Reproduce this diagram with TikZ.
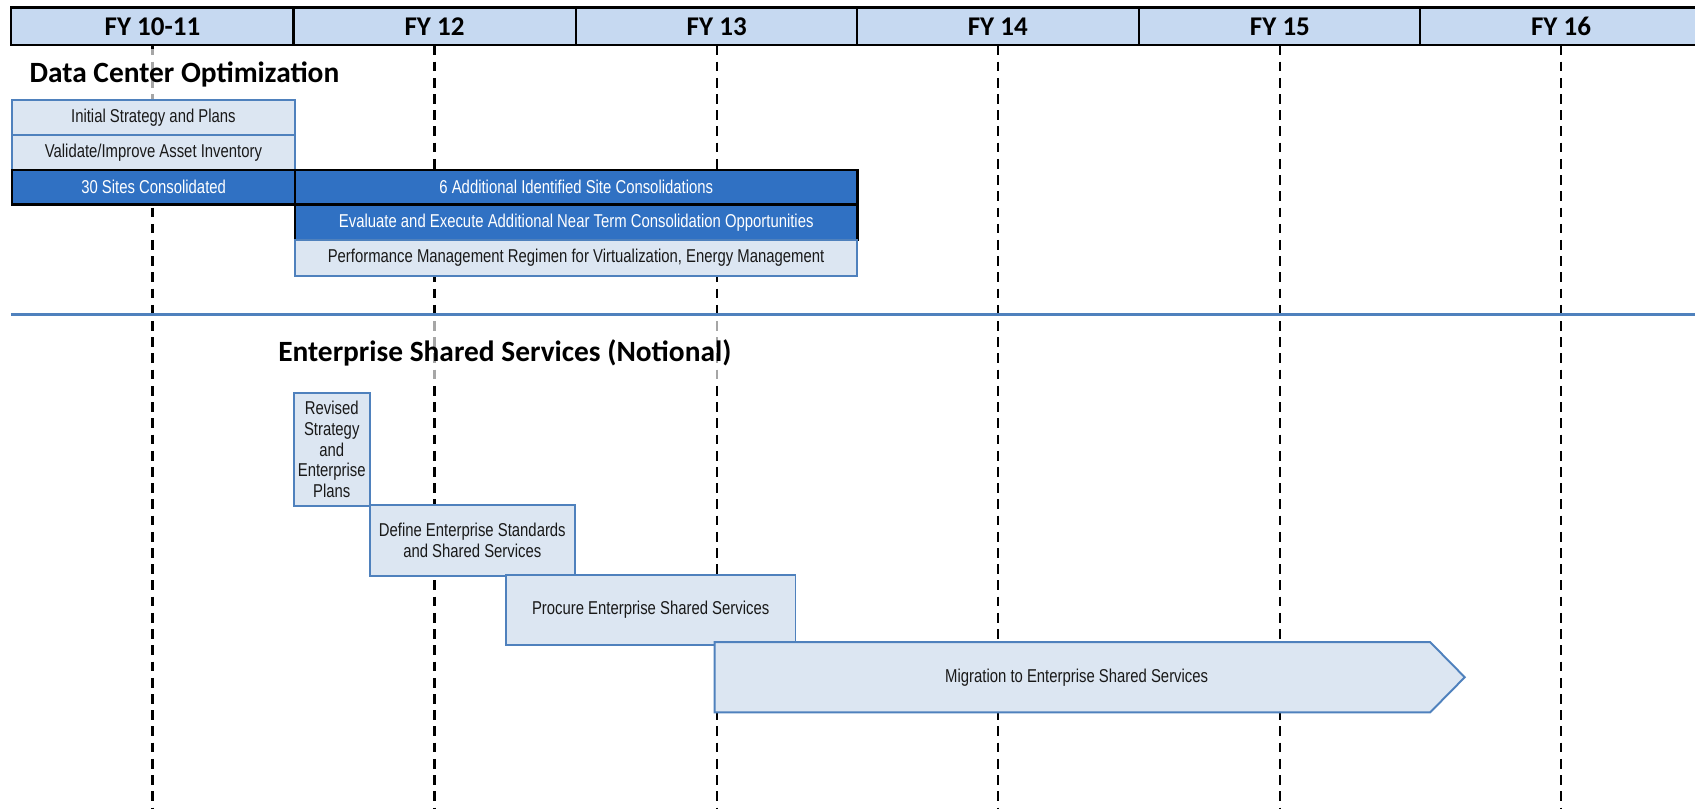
\documentclass[tikz,border=0pt]{standalone}
\usepackage{fontspec}
\usepackage{tikz}
\usetikzlibrary{positioning,calc}
\newfontfamily\boxfont[FakeStretch=0.8]{Liberation Sans}
\newfontfamily\headfont{Carlito}
\definecolor{headfill}{RGB}{198,217,241}
\definecolor{paleblue}{RGB}{220,230,242}
\definecolor{edgeblue}{RGB}{79,129,189}
\definecolor{deepblue}{RGB}{48,113,195}
\tikzset{
  fycell/.style={draw=black, fill=headfill, line width=1pt, minimum width=130.5pt, minimum height=17.5pt, inner sep=0pt, font=\headfont\bfseries\fontsize{12.5}{14}\selectfont},
  fyline/.style={black, line width=1.1pt, dash pattern=on 4.5pt off 3pt},
  sectiontitle/.style={anchor=west, inner xsep=0pt, fill=white, fill opacity=0.65, text opacity=1, font=\headfont\bfseries\fontsize{13.6}{15}\selectfont},
  phase/.style={draw=edgeblue, fill=paleblue, line width=0.9pt, inner sep=0pt, anchor=north west, align=center, text=black!90, font=\boxfont\fontsize{8.6}{9.6}\selectfont},
  darkphase/.style={phase, draw=black, fill=deepblue, text=white, line width=1.1pt}
}
\begin{document}
\begin{tikzpicture}[x=0.5pt,y=-0.5pt]
\useasboundingbox (0,0) rectangle (1568,748);
\clip (0,0) rectangle (1568,748);
% year header and year lines
\foreach \name/\cx/\lbl in {fy1/141/FY 10-11, fy2/402/FY 12, fy3/663/FY 13, fy4/923/FY 14, fy5/1184/FY 15, fy6/1444/FY 16}{
  \draw[fyline] (\cx,42) -- (\cx,748);
}
\draw[edgeblue, line width=1.2pt] (10,291) -- (1568,291);
% section titles
\node[sectiontitle, minimum height=24pt] (dctitle) at (27,69) {Data Center Optimization};
\node[sectiontitle, minimum height=30pt] (esstitle) at (257,326) {Enterprise Shared Services (Notional)};
\foreach \name/\cx/\lbl in {fy1/141/FY 10-11, fy2/402/FY 12, fy3/663/FY 13, fy4/923/FY 14, fy5/1184/FY 15, fy6/1444/FY 16}{
  \node[fycell] (\name) at (\cx,24.5) {\lbl};
}
% data center optimization
\node[phase, minimum width=131pt, minimum height=16pt] (initial) at (10,92) {Initial Strategy and Plans};
\node[phase, minimum width=131pt, minimum height=16pt] (validate) at (10,124) {Validate/Improve Asset Inventory};
\node[darkphase, minimum width=131pt, minimum height=16pt] (sites30) at (10,156) {30 Sites Consolidated};
\node[darkphase, minimum width=260pt, minimum height=16pt] (sites6) at (272,156) {6 Additional Identified Site Consolidations};
\node[darkphase, minimum width=260pt, minimum height=16.5pt] (evaluate) at (272,188) {Evaluate and Execute Additional Near Term Consolidation Opportunities};
\node[phase, minimum width=260pt, minimum height=16.5pt] (perform) at (272,221) {Performance Management Regimen for Virtualization, Energy Management};
% enterprise shared services
\node[phase, minimum width=35pt, minimum height=52pt] (revised) at (271,363) {Revised\\Strategy\\and\\Enterprise\\Plans};
\node[phase, minimum width=95pt, minimum height=33pt] (define) at (341,466) {Define Enterprise Standards\\and Shared Services};
\node[phase, minimum width=134pt, minimum height=32.5pt] (procure) at (467,531) {Procure Enterprise Shared Services};
\draw[draw=edgeblue, fill=paleblue, line width=0.9pt] (661,594) -- (1323,594) -- (1355,626.5) -- (1323,659) -- (661,659) -- cycle;
\node[text=black!90, font=\boxfont\fontsize{8.6}{9.6}\selectfont] (migrate) at (996,626.5) {Migration to Enterprise Shared Services};
\end{tikzpicture}
\end{document}
